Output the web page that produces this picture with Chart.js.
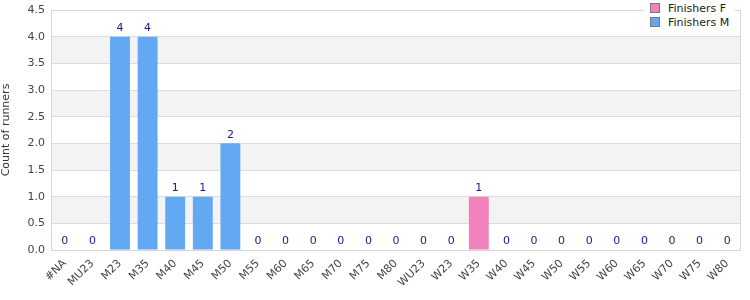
<!DOCTYPE html>
<html>
<head>
<meta charset="utf-8">
<script src="https://cdn.jsdelivr.net/npm/chart.js@4/dist/chart.umd.min.js"></script>
<style>
  html, body { margin: 0; padding: 0; background: #fff; }
  #wrap { position: relative; width: 750px; height: 300px; }
  #legend {
    position: absolute; left: 644px; top: 1px; background: #fff;
    padding: 1px 6px 2px 6px; font: 11px "DejaVu Sans", Verdana, sans-serif; color: #222;
  }
  #legend div { height: 14px; line-height: 14px; white-space: nowrap; }
  #legend span.box {
    display: inline-block; width: 8px; height: 8px; border: 1px solid #777;
    margin-right: 8px; vertical-align: -1px;
  }
</style>
</head>
<body>
<div id="wrap">
  <canvas id="c" width="750" height="300"></canvas>
  <div id="legend"></div>
</div>
<script>
const categories = ['#NA', 'MU23', 'M23', 'M35', 'M40', 'M45', 'M50', 'M55', 'M60', 'M65', 'M70', 'M75', 'M80',
  'WU23', 'W23', 'W35', 'W40', 'W45', 'W50', 'W55', 'W60', 'W65', 'W70', 'W75', 'W80'];
const finishersF = [0, 0, 0, 0, 0, 0, 0, 0, 0, 0, 0, 0, 0, 0, 0, 1, 0, 0, 0, 0, 0, 0, 0, 0, 0];
const finishersM = [0, 0, 4, 4, 1, 1, 2, 0, 0, 0, 0, 0, 0, 0, 0, 0, 0, 0, 0, 0, 0, 0, 0, 0, 0];
const yTicks = [0, 0.5, 1, 1.5, 2, 2.5, 3, 3.5, 4, 4.5];

const FONT = '"DejaVu Sans", Verdana, sans-serif';
const colF = '#f282bc', colM = '#62a8f3';

// legend (HTML, top right over the frame)
const legendItems = [['Finishers F', colF], ['Finishers M', colM]];
document.getElementById('legend').innerHTML = legendItems
  .map(([t, c]) => `<div><span class="box" style="background:${c}"></span>${t}</div>`).join('');

// alternating bands + frame
const bands = {
  id: 'bands',
  beforeDraw(chart) {
    const { ctx, chartArea: a, scales: { y } } = chart;
    ctx.save();
    ctx.fillStyle = '#f3f3f3';
    for (let i = 1; i < yTicks.length - 1; i += 2) {
      const top = y.getPixelForValue(yTicks[i + 1]);
      const bot = y.getPixelForValue(yTicks[i]);
      ctx.fillRect(a.left, top, a.right - a.left, bot - top);
    }
    ctx.restore();
  },
  afterDraw(chart) {
    const { ctx, chartArea: a } = chart;
    ctx.save();
    ctx.strokeStyle = '#d6d6d6';
    ctx.lineWidth = 1;
    ctx.strokeRect(Math.round(a.left) + 0.5, Math.round(a.top) + 0.5,
      Math.round(a.right - a.left) - 1, Math.round(a.bottom - a.top));
    ctx.restore();
  }
};

// totals above each stack
const totals = {
  id: 'totals',
  afterDatasetsDraw(chart) {
    const { ctx, scales: { x, y } } = chart;
    ctx.save();
    ctx.font = '11px ' + FONT;
    ctx.fillStyle = '#1a1a8a';
    ctx.textAlign = 'center';
    ctx.textBaseline = 'bottom';
    categories.forEach((c, i) => {
      const t = finishersF[i] + finishersM[i];
      ctx.fillText(String(t), x.getPixelForValue(i), y.getPixelForValue(t) - 3);
    });
    ctx.restore();
  }
};

new Chart(document.getElementById('c').getContext('2d'), {
  type: 'bar',
  data: {
    labels: categories,
    datasets: [
      { label: 'Finishers F', data: finishersF, backgroundColor: colF },
      { label: 'Finishers M', data: finishersM, backgroundColor: colM }
    ]
  },
  options: {
    responsive: false, animation: false, maintainAspectRatio: false,
    layout: { padding: { top: 10, right: 9, left: 0, bottom: 0 } },
    datasets: { bar: { categoryPercentage: 1, barPercentage: 0.72 } },
    plugins: { legend: { display: false }, tooltip: { enabled: false } },
    scales: {
      x: {
        stacked: true,
        grid: { display: false, drawTicks: false },
        border: { display: false },
        ticks: { color: '#444', font: { family: FONT, size: 11 }, minRotation: 45, maxRotation: 45, padding: 7, autoSkip: false },
        afterFit: s => { s.height = 50; s.paddingLeft = 0; s.paddingRight = 0; }
      },
      y: {
        stacked: true, min: 0, max: 4.5,
        grid: { color: '#dcdcdc', drawTicks: false },
        border: { display: false },
        ticks: { stepSize: 0.5, color: '#444', padding: 6, font: { family: FONT, size: 11 }, callback: v => v.toFixed(1) },
        title: { display: true, text: 'Count of runners', color: '#333', font: { family: FONT, size: 11 }, padding: 0 },
        afterFit: s => { s.width = 51; s.paddingTop = 0; s.paddingBottom = 0; }
      }
    }
  },
  plugins: [bands, totals]
});
</script>
</body>
</html>
